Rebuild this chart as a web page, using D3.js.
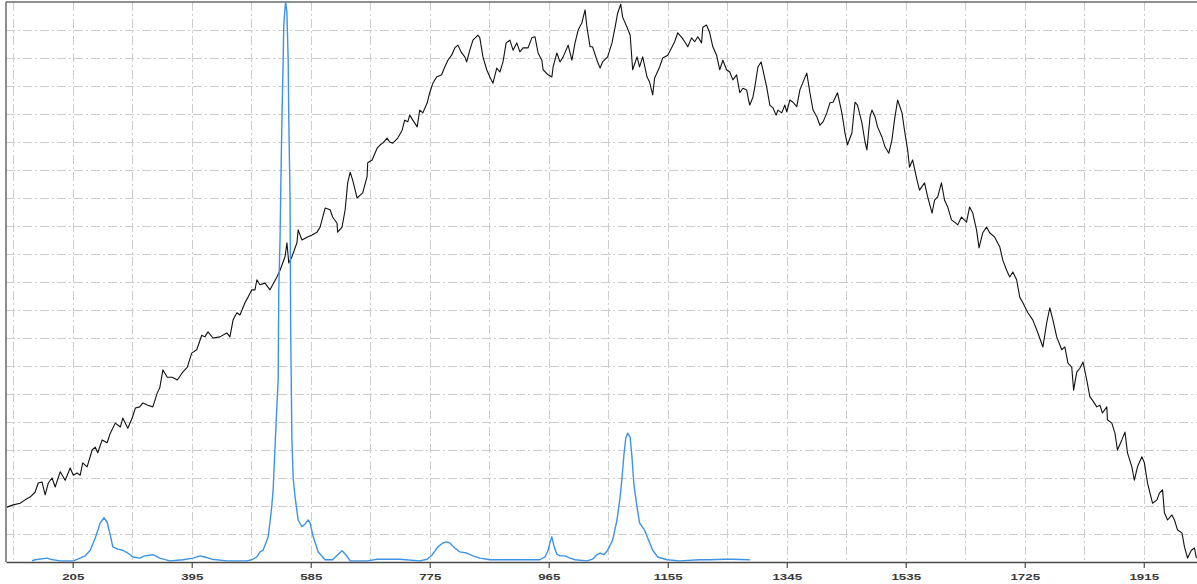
<!DOCTYPE html>
<html>
<head>
<meta charset="utf-8">
<script src="https://cdn.jsdelivr.net/npm/d3@7"></script>
<style>
  html, body { margin: 0; padding: 0; background: #fff; overflow: hidden; }
  svg { display: block; }
</style>
</head>
<body>
<svg id="chart" width="1197" height="584"></svg>
<script>
// Broadband source spectrum, normalised intensity vs. wavelength
const broadbandSpectrum = [
  [100,.098],[110,.102],[121,.105],[129,.111],[137,.116],[145,.125],[150,.141],[156,.143],[161,.120],[166,.141],
  [172,.150],[177,.134],[185,.161],[193,.146],[201,.168],[206,.155],[212,.159],[217,.155],[221,.177],[228,.170],
  [236,.200],[241,.205],[245,.195],[252,.218],[260,.213],[265,.230],[273,.248],[281,.241],[285,.257],[293,.239],
  [300,.257],[305,.275],[312,.277],[317,.284],[325,.280],[333,.277],[340,.302],[344,.311],[349,.343],[356,.330],
  [364,.330],[372,.325],[380,.338],[388,.348],[395,.373],[403,.379],[411,.405],[416,.402],[421,.411],[429,.400],
  [440,.402],[451,.409],[456,.402],[461,.432],[467,.445],[472,.441],[480,.463],[485,.473],[491,.486],[496,.486],
  [499,.504],[504,.495],[512,.498],[520,.486],[531,.509],[536,.521],[544,.545],[547,.570],[550,.534],[555,.545],
  [563,.570],[565,.593],[571,.575],[579,.580],[587,.584],[595,.589],[600,.598],[603,.611],[608,.632],[616,.629],
  [620,.616],[627,.605],[628,.589],[635,.598],[640,.629],[644,.677],[648,.696],[652,.682],[659,.650],[664,.655],
  [668,.659],[675,.688],[676,.713],[683,.718],[691,.739],[696,.745],[700,.748],[707,.757],[711,.750],[716,.748],
  [724,.757],[731,.771],[735,.789],[740,.786],[743,.798],[748,.789],[755,.777],[759,.807],[764,.802],[771,.820],
  [775,.838],[780,.855],[786,.866],[794,.870],[799,.884],[804,.896],[810,.905],[815,.918],[820,.923],[826,.909],
  [831,.902],[834,.893],[839,.914],[844,.932],[852,.941],[855,.936],[860,.902],[866,.879],[871,.866],[876,.855],
  [882,.882],[887,.875],[892,.893],[897,.927],[903,.932],[908,.914],[914,.927],[919,.911],[924,.918],[932,.918],
  [938,.936],[943,.938],[948,.909],[954,.896],[956,.879],[964,.870],[970,.866],[972,.884],[978,.909],[983,.893],
  [988,.902],[996,.923],[1002,.896],[1007,.927],[1012,.950],[1018,.963],[1023,.986],[1026,.955],[1031,.920],[1035,.920],
  [1042,.896],[1047,.882],[1051,.893],[1059,.902],[1066,.927],[1071,.955],[1075,.980],[1080,.996],[1083,.973],[1090,.955],
  [1095,.941],[1099,.879],[1106,.902],[1110,.884],[1115,.902],[1122,.866],[1126,.857],[1131,.834],[1134,.864],[1142,.884],
  [1147,.900],[1155,.905],[1162,.920],[1166,.929],[1171,.945],[1178,.936],[1182,.929],[1187,.920],[1193,.936],[1198,.929],
  [1203,.938],[1209,.927],[1211,.955],[1217,.959],[1222,.945],[1227,.920],[1233,.905],[1238,.879],[1243,.896],[1249,.879],
  [1254,.875],[1259,.861],[1265,.870],[1270,.838],[1275,.846],[1281,.843],[1284,.825],[1286,.816],[1291,.830],[1294,.848],
  [1299,.884],[1304,.893],[1307,.879],[1313,.848],[1318,.816],[1323,.811],[1328,.798],[1331,.807],[1337,.802],[1342,.816],
  [1345,.804],[1350,.825],[1355,.821],[1361,.813],[1366,.843],[1371,.857],[1377,.873],[1382,.838],[1387,.807],[1393,.795],
  [1398,.780],[1403,.786],[1409,.802],[1414,.820],[1419,.821],[1426,.838],[1433,.802],[1438,.766],[1442,.745],[1449,.766],
  [1454,.821],[1458,.816],[1465,.784],[1470,.750],[1473,.736],[1478,.795],[1481,.807],[1486,.795],[1490,.777],[1497,.759],
  [1502,.741],[1508,.730],[1513,.754],[1517,.789],[1522,.825],[1529,.802],[1533,.771],[1538,.736],[1541,.705],[1546,.718],
  [1553,.682],[1557,.664],[1565,.677],[1570,.652],[1577,.623],[1581,.646],[1586,.652],[1592,.677],[1597,.646],[1602,.634],
  [1608,.611],[1613,.607],[1618,.602],[1624,.616],[1632,.607],[1637,.634],[1642,.623],[1648,.593],[1652,.561],[1658,.588],
  [1664,.598],[1669,.588],[1677,.580],[1685,.563],[1690,.539],[1696,.521],[1701,.509],[1706,.518],[1712,.504],[1717,.473],
  [1722,.463],[1730,.445],[1738,.432],[1746,.409],[1754,.384],[1760,.427],[1765,.454],[1770,.432],[1776,.402],[1784,.379],
  [1789,.384],[1794,.355],[1800,.348],[1803,.307],[1808,.339],[1813,.346],[1818,.357],[1824,.325],[1829,.295],[1833,.289],
  [1840,.277],[1845,.280],[1849,.266],[1856,.277],[1857,.254],[1864,.248],[1869,.230],[1873,.200],[1880,.218],[1885,.232],
  [1889,.195],[1896,.170],[1900,.146],[1905,.170],[1912,.188],[1916,.177],[1921,.141],[1929,.105],[1936,.111],[1940,.123],
  [1945,.129],[1948,.088],[1953,.075],[1960,.084],[1964,.075],[1969,.057],[1976,.052],[1980,.027],[1985,.007],[1991,.021],
  [1996,.025],[1999,.007]
];

// Emission-line spectrum, normalised intensity vs. wavelength
const lineSpectrum = [
  [140,.002],[145,.004],[164,.007],[169,.005],[185,.002],[206,.002],[213,.005],[225,.011],[233,.021],[241,.043],
  [249,.070],[255,.079],[260,.071],[265,.048],[269,.027],[277,.023],[285,.021],[293,.016],[301,.009],[312,.007],
  [320,.011],[333,.013],[344,.007],[360,.002],[381,.004],[397,.007],[408,.011],[416,.009],[427,.005],[451,.002],
  [483,.002],[491,.004],[499,.009],[504,.018],[509,.021],[515,.039],[517,.045],[520,.071],[523,.102],[525,.129],
  [526,.155],[528,.205],[530,.254],[533,.325],[534,.486],[536,.575],[537,.652],[539,.789],[541,.896],[542,.959],
  [544,.989],[545,1.000],[547,.982],[549,.896],[550,.789],[552,.652],[553,.414],[555,.218],[557,.150],[560,.116],
  [565,.075],[571,.063],[576,.068],[581,.075],[584,.070],[589,.045],[597,.018],[608,.004],[620,.004],[628,.013],
  [635,.020],[641,.013],[648,.002],[664,.002],[675,.002],[691,.005],[727,.005],[759,.002],[771,.005],[779,.013],
  [788,.027],[796,.034],[802,.036],[807,.034],[815,.025],[823,.018],[834,.016],[844,.011],[855,.007],[871,.004],
  [887,.004],[919,.004],[951,.004],[959,.009],[964,.021],[968,.039],[970,.045],[973,.030],[978,.014],[983,.011],
  [991,.011],[999,.007],[1007,.004],[1026,.002],[1035,.005],[1042,.013],[1047,.016],[1053,.013],[1059,.021],[1067,.039],
  [1074,.075],[1079,.116],[1082,.150],[1085,.191],[1088,.221],[1091,.230],[1095,.223],[1098,.186],[1101,.138],[1106,.098],
  [1110,.070],[1118,.057],[1123,.043],[1131,.021],[1139,.009],[1154,.004],[1174,.002],[1206,.004],[1222,.004],[1246,.005],
  [1259,.005],[1286,.004]
];

// Labelled axis ticks
const xTickLabels = [205, 395, 585, 775, 965, 1155, 1345, 1535, 1725, 1915];
const xDomain = [98.5, 2000];
const yDomain = [0, 1];
const xGridStep = 95;   // one grid line between labelled ticks
const yGridStep = 0.05;

const width = 1197, height = 584;
const plot = { left: 6, top: 2, right: 1197, bottom: 562 };

const svg = d3.select("#chart");

const x = d3.scaleLinear().domain(xDomain).range([plot.left, plot.right]);
const y = d3.scaleLinear().domain(yDomain).range([plot.bottom, plot.top]);

// Dash-dot grid
const gridColor = "#cdcdcd";
const gridDash = "9,3,2,3";
const xGrid = d3.range(xTickLabels[0] - xGridStep, xDomain[1], xGridStep);
const yGrid = d3.range(1, 20).map(i => +(i * yGridStep).toFixed(2));

const grid = svg.append("g").attr("class", "grid");
grid.selectAll("line.v").data(xGrid).join("line")
  .attr("class", "v")
  .attr("x1", d => Math.round(x(d)) + 0.5).attr("x2", d => Math.round(x(d)) + 0.5)
  .attr("y1", plot.top).attr("y2", plot.bottom)
  .attr("stroke", gridColor).attr("stroke-width", 1).attr("stroke-dasharray", gridDash);
grid.selectAll("line.h").data(yGrid).join("line")
  .attr("class", "h")
  .attr("x1", plot.left).attr("x2", plot.right)
  .attr("y1", d => Math.round(y(d)) + 0.5).attr("y2", d => Math.round(y(d)) + 0.5)
  .attr("stroke", gridColor).attr("stroke-width", 1).attr("stroke-dasharray", gridDash);

// Frame: left and top borders
svg.append("line")
  .attr("x1", plot.left).attr("x2", plot.left)
  .attr("y1", plot.top).attr("y2", plot.bottom)
  .attr("stroke", "#6a6a6a").attr("stroke-width", 1.5);
svg.append("line")
  .attr("x1", plot.left).attr("x2", plot.right)
  .attr("y1", plot.top).attr("y2", plot.top)
  .attr("stroke", "#6a6a6a").attr("stroke-width", 1.5);

// Spectra
const line = d3.line().x(d => x(d[0])).y(d => y(d[1]));

svg.append("path")
  .datum(broadbandSpectrum)
  .attr("fill", "none")
  .attr("stroke", "#111")
  .attr("stroke-width", 1.1)
  .attr("stroke-linejoin", "round")
  .attr("d", line);

svg.append("path")
  .datum(lineSpectrum)
  .attr("fill", "none")
  .attr("stroke", "#3d94e4")
  .attr("stroke-width", 1.4)
  .attr("stroke-linejoin", "round")
  .attr("d", line);

// Bottom axis
const xAxis = d3.axisBottom(x)
  .tickValues(xTickLabels)
  .tickFormat(d3.format("d"))
  .tickSizeInner(6)
  .tickSizeOuter(0);

const axisG = svg.append("g")
  .attr("transform", `translate(0,${plot.bottom})`)
  .call(xAxis);

axisG.select(".domain").attr("stroke", "#4a4a4a").attr("stroke-width", 1.5);
axisG.selectAll(".tick line").attr("stroke", "#4a4a4a").attr("stroke-width", 1.2);
axisG.selectAll(".tick text")
  .attr("y", 18).attr("dy", 0)
  .attr("transform", "scale(1.4,1)")
  .attr("fill", "#3a3a3a")
  .style("font-family", "'Liberation Sans', Arial, sans-serif")
  .style("font-size", "9.5px")
  .style("font-weight", "bold");
</script>
</body>
</html>
